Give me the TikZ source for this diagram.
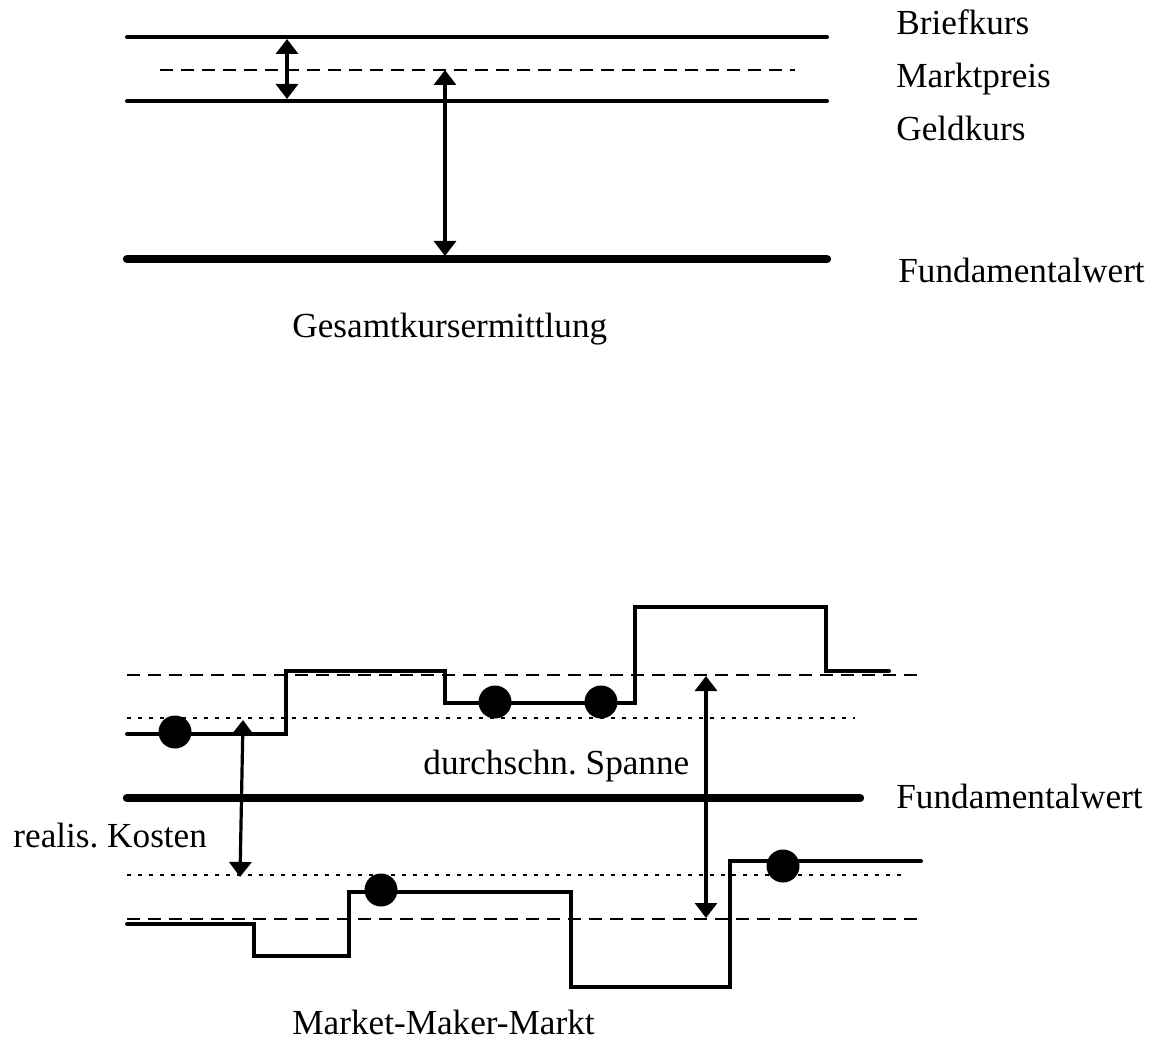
\documentclass[tikz,border=0pt]{standalone}
\usepackage{fontspec}
\setmainfont{Liberation Serif}
\usetikzlibrary{arrows.meta}
\frenchspacing
\begin{document}
\begin{tikzpicture}[x=0.5pt,y=-0.5pt,
  lvl/.style={line width=2pt, line cap=round},
  fund/.style={line width=4.2pt, line cap=round},
  dashline/.style={line width=1pt, dash pattern=on 6.5pt off 4pt},
  dotline/.style={line width=1.3pt, dash pattern=on 2.2pt off 3.3pt},
  stepline/.style={line width=2pt, line cap=round, line join=miter},
  dbl/.style={line width=1.6pt, {Triangle[width=11pt,length=7.5pt]}-{Triangle[width=11pt,length=7.5pt]}},
  trade/.style={circle, fill=black, inner sep=0pt, minimum size=16.5pt},
  lab/.style={font=\fontsize{17.6}{21}\selectfont, inner sep=0pt, anchor=base west}]
\useasboundingbox (0,0) rectangle (1161,1043);

% ---------- upper panel: Gesamtkursermittlung ----------
\draw[lvl] (127,37) -- (827,37);
\draw[dashline] (160,70) -- (795,70);
\draw[lvl] (127,101) -- (827,101);
\draw[fund] (127,259) -- (827,259);

\coordinate (a1t) at (287,39);
\coordinate (a1b) at (287,99);
\draw[dbl] (a1t) -- (a1b);
\coordinate (a2t) at (445,70);
\coordinate (a2b) at (445,256);
\draw[dbl] (a2t) -- (a2b);

\node[lab] (brief) at (896,35) {Briefkurs};
\node[lab] (markt) at (896,88) {Marktpreis};
\node[lab] (geld) at (896,141) {Geldkurs};
\node[lab] (fund1) at (898,282) {Fundamentalwert};
\node[lab] (gesamt) at (292,337) {Gesamtkursermittlung};

% ---------- lower panel: Market-Maker-Markt ----------
\draw[dashline] (127,675) -- (920,675);
\draw[dotline] (127,718) -- (855,718);
\draw[fund] (127,798) -- (860,798);
\draw[dotline] (127,875) -- (907,875);
\draw[dashline] (127,919) -- (918,919);

% ask (upper) step line
\draw[stepline] (127,734) -- (286,734) -- (286,671) -- (445,671) -- (445,703)
  -- (635,703) -- (635,607) -- (826,607) -- (826,671) -- (889,671);
% bid (lower) step line
\draw[stepline] (127,924) -- (254,924) -- (254,956) -- (349,956) -- (349,892)
  -- (571,892) -- (571,987) -- (730,987) -- (730,861) -- (921,861);

% transactions
\node[trade] (t1) at (175,732) {};
\node[trade] (t2) at (495,702) {};
\node[trade] (t3) at (601,702) {};
\node[trade] (t4) at (381,890) {};
\node[trade] (t5) at (783,866) {};

% arrows
\coordinate (k1) at (243,720);
\coordinate (k2) at (240,877);
\draw[dbl] (k1) -- (k2);
\coordinate (s1) at (706,676);
\coordinate (s2) at (706,918);
\draw[dbl] (s1) -- (s2);

\node[lab] (spanne) at (423,774) {durchschn. Spanne};
\node[lab] (fund2) at (896,808) {Fundamentalwert};
\node[lab] (kosten) at (13,847) {realis. Kosten};
\node[lab] (mmm) at (292,1034) {Market-Maker-Markt};
\end{tikzpicture}
\end{document}
